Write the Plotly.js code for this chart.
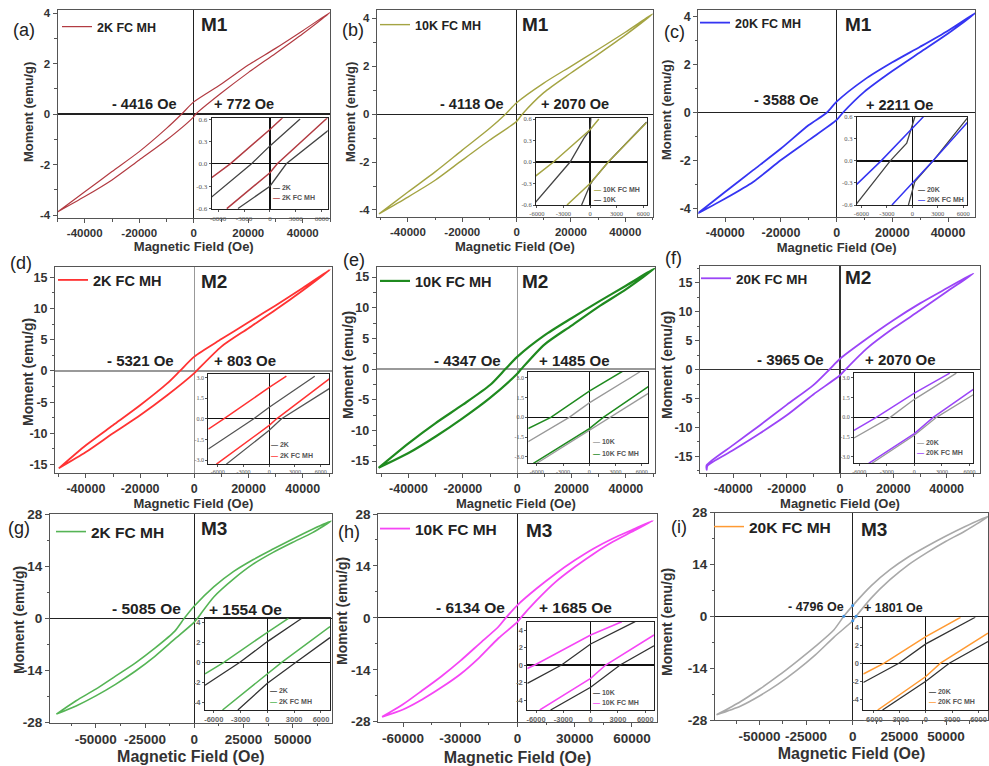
<!DOCTYPE html>
<html><head><meta charset="utf-8">
<script src="https://cdn.plot.ly/plotly-3.0.1.min.js"></script>
<style>html,body{margin:0;padding:0;background:#fff}#chart{width:989px;height:766px}</style>
</head><body><div id="chart"></div>
<script>
// ================= DATA =================
// tick values
const xTicks50 = [-40000, -20000, 0, 20000, 40000];
const xTicks70a = [-50000, -25000, 0, 25000, 50000];
const xTicks70b = [-60000, -30000, 0, 30000, 60000];
const yTicksM1 = [-4, -2, 0, 2, 4];
const yTicksM2 = [-15, -10, -5, 0, 5, 10, 15];
const yTicksM3 = [-28, -14, 0, 14, 28];
const insXTicks = [-6000, -3000, 0, 3000, 6000];
const insYTicksM1 = [-0.6, -0.3, 0, 0.3, 0.6];
const insYTicksM2 = [-3, -1.5, 0, 1.5, 3];
const insYTicksM3 = [-4, -2, 0, 2, 4];

// (a) M1 2K FC MH  main loop (down = descending branch, up = ascending branch)
const aDownH = [50000, 40000, 30000, 20000, 10000, 0, -4416, -10000, -20000, -30000, -40000, -50000];
const aDownM = [4.02, 3.30, 2.60, 1.94, 1.18, 0.48, 0, -0.57, -1.49, -2.28, -3.08, -3.88];
const aUpH = [-50000, -40000, -30000, -20000, -10000, 0, 772, 10000, 20000, 30000, 40000, 50000];
const aUpM = [-3.88, -3.27, -2.61, -1.82, -1.03, -0.11, 0, 0.82, 1.64, 2.40, 3.18, 4.02];
// (a) inset
const aFcDownH = [1500, 0, -4600, -6800];  const aFcDownM = [0.62, 0.46, 0, -0.19];
const aFcUpH = [-5000, 0, 850, 6800];      const aFcUpM = [-0.6, -0.12, 0, 0.63];
const aRefDownH = [3500, 0, -2130, -6800]; const aRefDownM = [0.6, 0.24, 0, -0.45];
const aRefUpH = [-3700, 0, 1900, 6800];    const aRefUpM = [-0.6, -0.3, 0, 0.45];

// (b) M1 10K FC MH
const bDownH = [50000, 40000, 30000, 20000, 10000, 0, -4118, -10000, -20000, -30000, -40000, -50500];
const bDownM = [4.18, 3.42, 2.70, 2.00, 1.30, 0.48, 0, -0.60, -1.50, -2.41, -3.25, -4.15];
const bUpH = [-50500, -40000, -30000, -20000, -10000, 0, 2070, 10000, 20000, 30000, 40000, 50000];
const bUpM = [-4.15, -3.46, -2.76, -1.92, -1.09, -0.30, 0, 0.90, 1.72, 2.50, 3.30, 4.18];
const bFcDownH = [1000, 0, -4120, -6700];        const bFcDownM = [0.6, 0.45, 0, -0.25];
const bFcUpH = [-2600, 0, 2060, 6400];           const bFcUpM = [-0.6, -0.3, 0, 0.55];
const bRefDownH = [100, 0, -700, -2250, -6200];  const bRefDownM = [0.62, 0.45, 0.33, 0, -0.57];
const bRefUpH = [-950, 0, 300, 2060, 6400];      const bRefUpM = [-0.6, -0.32, -0.26, 0, 0.56];

// (c) M1 20K FC MH
const cDownH = [50000, 40000, 30000, 20000, 10000, 0, -3588, -10000, -20000, -30000, -40000, -50000];
const cDownM = [4.17, 3.42, 2.75, 2.10, 1.38, 0.46, 0, -0.51, -1.49, -2.39, -3.29, -4.2];
const cUpH = [-50000, -40000, -30000, -20000, -10000, 0, 2211, 10000, 20000, 30000, 40000, 50000];
const cUpM = [-4.2, -3.57, -2.88, -1.97, -1.14, -0.30, 0, 0.88, 1.74, 2.52, 3.30, 4.17];
const cFcDownH = [1300, 0, -3680, -6550];        const cFcDownM = [0.6, 0.44, 0, -0.32];
const cFcUpH = [-2400, 0, 2440, 6470];           const cFcUpM = [-0.6, -0.3, 0, 0.52];
const cRefDownH = [300, 0, -660, -2600, -6550];  const cRefDownM = [0.6, 0.48, 0.24, 0, -0.58];
const cRefUpH = [-460, 0, 300, 2440, 6470];      const cRefUpM = [-0.6, -0.4, -0.28, 0, 0.58];

// (d) M2 2K FC MH
const dDownH = [50000, 40000, 30000, 20000, 10000, 0, -5321, -10000, -20000, -30000, -40000, -50000];
const dDownM = [16.2, 13.3, 10.5, 7.8, 5.1, 2.3, 0, -2.0, -5.5, -8.7, -11.9, -15.6];
const dUpH = [-50000, -40000, -30000, -20000, -10000, 0, 803, 10000, 20000, 30000, 40000, 50000];
const dUpM = [-15.6, -13.0, -10.0, -7.1, -3.9, -0.35, 0, 3.9, 6.85, 9.8, 12.9, 16.2];
const dFcDownH = [2000, 0, -5300, -7100];  const dFcDownM = [3.1, 2.28, 0, -0.75];
const dFcUpH = [-6150, 0, 860, 7000];      const dFcUpM = [-3.3, -0.48, 0, 2.9];
const dRefDownH = [5300, 0, -1800, -7100]; const dRefDownM = [3.1, 0.84, 0, -2.2];
const dRefUpH = [-5000, 0, 1440, 7000];    const dRefUpM = [-3.3, -0.84, 0, 2.2];

// (e) M2 10K FC MH
const eDownH = [50500, 40000, 30000, 20000, 10000, 0, -4347, -10000, -20000, -30000, -40000, -51000];
const eDownM = [16.4, 13.6, 11.0, 8.3, 5.5, 2.0, 0, -2.6, -5.8, -8.8, -12.1, -16.1];
const eUpH = [-51000, -40000, -30000, -20000, -10000, 0, 1485, 10000, 20000, 30000, 40000, 50500];
const eUpM = [-16.1, -13.7, -11.0, -8.0, -4.7, -0.75, 0, 4.0, 7.1, 10.2, 13.0, 16.4];
const eFcDownH = [3800, 0, -4400, -7000];  const eFcDownM = [3.5, 2.0, 0, -0.85];
const eFcUpH = [-6400, 0, 1600, 6750];     const eFcUpM = [-3.49, -0.85, 0, 2.33];
const eRefDownH = [5800, 0, -2300, -7000]; const eRefDownM = [3.47, 1.1, 0, -1.85];
const eRefUpH = [-6000, 0, 2370, 6750];    const eRefUpM = [-3.49, -0.96, 0, 1.82];

// (f) M2 20K FC MH
const fDownH = [50000, 40000, 30000, 20000, 10000, 0, -3965, -10000, -20000, -30000, -40000, -50000];
const fDownM = [16.55, 14.0, 11.4, 8.5, 5.3, 1.85, 0, -2.7, -6.1, -9.6, -13.0, -16.5];
const fUpH = [-50000, -49700, -40000, -30000, -20000, -10000, 0, 2070, 10000, 20000, 30000, 40000, 50000];
const fUpM = [-17.3, -16.6, -13.9, -11.0, -7.9, -4.3, -1.0, 0, 3.6, 7.1, 10.2, 13.4, 16.55];
const fFcDownH = [3850, 0, -4140, -6560];  const fFcDownM = [3.37, 1.85, 0, -1.0];
const fFcUpH = [-4960, 0, 2050, 6410];     const fFcUpM = [-3.5, -1.24, 0, 2.13];
const fRefDownH = [4570, 0, -2630, -6560]; const fRefDownM = [3.37, 1.37, 0, -1.57];
const fRefUpH = [-4600, 0, 2410, 6410];    const fRefUpM = [-3.5, -1.37, 0, 1.72];

// (g) M3 2K FC MH
const gDownH = [69500, 60000, 50000, 40000, 30000, 20000, 10000, 0, -5085, -10000, -20000, -30000, -40000, -50000, -60000, -70000];
const gDownM = [26.1, 23.9, 21.3, 18.6, 15.8, 12.6, 8.5, 3.3, 0, -3.5, -8.0, -12.0, -15.5, -19.0, -22.1, -25.7];
const gUpH = [-70000, -60000, -50000, -40000, -30000, -20000, -10000, 0, 1554, 10000, 20000, 30000, 40000, 50000, 60000, 69500];
const gUpM = [-25.7, -23.5, -20.8, -17.7, -14.2, -10.2, -5.6, -1.0, 0, 5.8, 10.6, 14.6, 17.7, 20.4, 23.0, 26.1];
const gFcDownH = [2360, 0, -4870, -6980];  const gFcDownM = [4.4, 3.0, 0, -1.15];
const gFcUpH = [-5020, 0, 1600, 7010];     const gFcUpM = [-4.77, -1.2, 0, 3.57];
const gRefDownH = [3860, 0, -3070, -6980]; const gRefDownM = [4.4, 2.07, 0, -2.3];
const gRefUpH = [-3300, 0, 3200, 7010];    const gRefUpM = [-4.77, -2.1, 0, 2.47];

// (h) M3 10K FC MH
const hDownH = [71000, 60000, 50000, 40000, 30000, 20000, 10000, 0, -6134, -10000, -20000, -30000, -40000, -50000, -60000, -71000];
const hDownM = [26.2, 23.7, 21.4, 18.7, 15.5, 11.9, 7.9, 3.45, 0, -2.4, -7.0, -11.6, -15.8, -19.6, -23.3, -26.7];
const hUpH = [-71000, -60000, -50000, -40000, -30000, -20000, -10000, 0, 1685, 10000, 20000, 30000, 40000, 50000, 60000, 71000];
const hUpM = [-26.7, -24.7, -22.0, -18.8, -15.2, -10.7, -5.5, -1.1, 0, 4.7, 9.7, 13.7, 17.3, 20.5, 23.2, 26.2];
const hFcDownH = [3420, 0, -6140, -6960];  const hFcDownM = [4.95, 3.43, 0, -0.4];
const hFcUpH = [-5590, 0, 1650, 6960];     const hFcUpM = [-5.14, -1.52, 0, 3.43];
const hRefDownH = [4890, 0, -3200, -6960]; const hRefDownM = [4.95, 2.4, 0, -2.1];
const hRefUpH = [-4400, 0, 3240, 6960];    const hRefUpM = [-5.14, -2.55, 0, 2.2];

// (i) M3 20K (main loop grey)
const iDownH = [73000, 60000, 50000, 40000, 30000, 20000, 10000, 0, -4796, -10000, -20000, -30000, -40000, -50000, -60000, -73000];
const iDownM = [27.1, 24.2, 21.7, 19.0, 16.1, 12.6, 8.3, 2.9, 0, -3.6, -8.1, -12.2, -16.1, -19.7, -23.0, -26.6];
const iUpH = [-73000, -60000, -50000, -40000, -30000, -20000, -10000, 0, 1801, 10000, 20000, 30000, 40000, 50000, 60000, 73000];
const iUpM = [-26.6, -24.2, -21.5, -18.3, -14.6, -10.4, -5.6, -1.2, 0, 5.0, 9.9, 14.0, 17.3, 20.3, 23.0, 27.1];
const iMarkH = [-4796, 1801, 0, 0];
const iMarkM = [0, 0, 2.9, -1.2];
const iFcDownH = [3960, 0, -4740, -7120];  const iFcDownM = [5.1, 2.96, 0, -1.2];
const iFcUpH = [-5480, 0, 1670, 7080];     const iFcUpM = [-5.2, -1.48, 0, 3.33];
const iRefDownH = [5630, 0, -3070, -7120]; const iRefDownM = [5.1, 2.15, 0, -2.15];
const iRefUpH = [-4930, 0, 2670, 7080];    const iRefUpM = [-5.2, -2.0, 0, 2.4];

// ================= STYLE / LAYOUT =================
const W = 989, H = 766;
const px = v => v / W;
const py = v => 1 - v / H;
const SANS = 'Liberation Sans, Arial, sans-serif';
const SERIF = 'Liberation Serif, Times New Roman, serif';

const specs = [
 {down:[aDownH,aDownM], up:[aUpH,aUpM], name:'2K FC MH', color:'#b23b42', lw:1.2,
  box:[57.5,330,10,218.3], xr:[-50000,50000], yr:[-4.13,4.12], xt:xTicks50, xm:10000, yt:yTicksM1, ym:1,
  zc:'#222', tf:11.5, ttf:13, xso:1, yTitle:[28,112,13], leg:[57,12,12.5],
  tag:'M1', tagPos:[214,25], hl:'- 4416 Oe', hlPos:[144,104], hr:'+ 772 Oe', hrPos:[244,104], hf:14.5,
  letter:'(a)', letterPos:[24,30],
  ins:{box:[211.7,327.7,118.3,209.3], xr:[-6750,6700], yr:[-0.61,0.61], yt:insYTicksM1, dec:1,
       fc:[[aFcDownH,aFcDownM],[aFcUpH,aFcUpM]], ref:[[aRefDownH,aRefDownM],[aRefUpH,aRefUpM]],
       refName:'2K', refColor:'#444', tickFont:{family:SERIF,size:7,color:'#555'},
       legX:271, legY:[187,197.5], order:['ref','fc']}},
 {down:[bDownH,bDownM], up:[bUpH,bUpM], name:'10K FC MH', color:'#a4a443', lw:1.4,
  box:[376.7,653,10,216.7], xr:[-51500,50200], yr:[-4.28,4.35], xt:xTicks50, xm:10000, yt:yTicksM1, ym:1,
  zc:'#222', tf:11.5, ttf:13, xso:5, yTitle:[350,112,13], leg:[375,10,12.5],
  tag:'M1', tagPos:[535,25], hl:'- 4118 Oe', hlPos:[472,104], hr:'+ 2070 Oe', hrPos:[575,104], hf:14.5,
  letter:'(b)', letterPos:[353,30],
  ins:{box:[536,646.7,118.3,205], xr:[-6100,6400], yr:[-0.6,0.61], yt:insYTicksM1, dec:1,
       fc:[[bFcDownH,bFcDownM],[bFcUpH,bFcUpM]], ref:[[bRefDownH,bRefDownM],[bRefUpH,bRefUpM]],
       refName:'10K', refColor:'#444', tickFont:{family:SERIF,size:6.5,color:'#555'},
       legX:592, legY:[189.5,199], order:['fc','ref']}},
 {down:[cDownH,cDownM], up:[cUpH,cUpM], name:'20K FC MH', color:'#3535f2', lw:1.8,
  box:[698.3,975,10,216.7], xr:[-49700,49700], yr:[-4.33,4.28], xt:xTicks50, xm:10000, yt:yTicksM1, ym:1,
  zc:'#222', tf:12.5, ttf:13, xso:4, yTitle:[667,110,13], leg:[695,8,12.5],
  tag:'M1', tagPos:[858,25], hl:'- 3588 Oe', hlPos:[786,100], hr:'+ 2211 Oe', hrPos:[899,105], hf:14.5,
  letter:'(c)', letterPos:[674,32],
  ins:{box:[856.7,967.3,116.7,205], xr:[-6550,6470], yr:[-0.6,0.6], yt:insYTicksM1, dec:1,
       fc:[[cFcDownH,cFcDownM],[cFcUpH,cFcUpM]], ref:[[cRefDownH,cRefDownM],[cRefUpH,cRefUpM]],
       refName:'20K', refColor:'#444', tickFont:{family:SERIF,size:6.5,color:'#555'},
       legX:916, legY:[189.5,199], order:['ref','fc']}},
 {down:[dDownH,dDownM], up:[dUpH,dUpM], name:'2K FC MH', color:'#ff3333', lw:1.8,
  box:[55,331.7,266.7,473.3], xr:[-51400,50700], yr:[-16.4,16.7], xt:xTicks50, xm:10000, yt:yTicksM2, ym:2.5,
  zc:'#999', tf:12.5, ttf:13, xso:2, yTitle:[28,372,14], leg:[53,264,14.5],
  tag:'M2', tagPos:[214,282], hl:'- 5321 Oe', hlPos:[140,360], hr:'+ 803 Oe', hrPos:[245,360], hf:15,
  letter:'(d)', letterPos:[21,263],
  ins:{box:[208.3,329.3,374.3,464], xr:[-7100,7000], yr:[-3.29,3.24], yt:insYTicksM2, dec:1,
       fc:[[dFcDownH,dFcDownM],[dFcUpH,dFcUpM]], ref:[[dRefDownH,dRefDownM],[dRefUpH,dRefUpM]],
       refName:'2K', refColor:'#555', tickFont:{family:SERIF,size:6,color:'#555'},
       legX:269, legY:[445,455], order:['ref','fc']}},
 {down:[eDownH,eDownM], up:[eUpH,eUpM], name:'10K FC MH', color:'#1f8a1f', lw:2.2,
  box:[376.7,655,266.7,473.3], xr:[-51700,50700], yr:[-17.0,16.7], xt:xTicks50, xm:10000, yt:yTicksM2, ym:2.5,
  zc:'#999', tf:12.5, ttf:13, xso:2, yTitle:[348,365,14], leg:[375,265,14.5],
  tag:'M2', tagPos:[535,281], hl:'- 4347 Oe', hlPos:[467,360], hr:'+ 1485 Oe', hrPos:[574,360], hf:15,
  letter:'(e)', letterPos:[354,260],
  ins:{box:[528.3,648.3,371.7,463.3], xr:[-6980,6750], yr:[-3.49,3.47], yt:insYTicksM2, dec:1,
       fc:[[eFcDownH,eFcDownM],[eFcUpH,eFcUpM]], ref:[[eRefDownH,eRefDownM],[eRefUpH,eRefUpM]],
       refName:'10K', refColor:'#999', tickFont:{family:SERIF,size:6,color:'#555'},
       legX:591, legY:[441.7,453.3], order:['ref','fc']}},
 {down:[fDownH,fDownM], up:[fUpH,fUpM], name:'20K FC MH', color:'#9b45f7', lw:1.8,
  box:[700,980,265.7,473.3], xr:[-52500,52500], yr:[-17.9,17.9], xt:xTicks50, xm:10000, yt:yTicksM2, ym:2.5,
  zc:'#333', tf:12.5, ttf:13, xso:2, yTitle:[667,365,14], leg:[696,263,13.5],
  tag:'M2', tagPos:[858,278], hl:'- 3965 Oe', hlPos:[790,359], hr:'+ 2070 Oe', hrPos:[900,359], hf:15,
  letter:'(f)', letterPos:[673,258],
  ins:{box:[854,973.3,372.7,463.3], xr:[-6560,6410], yr:[-3.5,3.4], yt:insYTicksM2, dec:1,
       fc:[[fFcDownH,fFcDownM],[fFcUpH,fFcUpM]], ref:[[fRefDownH,fRefDownM],[fRefUpH,fRefUpM]],
       refName:'20K', refColor:'#999', tickFont:{family:SERIF,size:6,color:'#555'},
       legX:915, legY:[442.3,452.3], order:['ref','fc']}},
 {down:[gDownH,gDownM], up:[gUpH,gUpM], name:'2K FC MH', color:'#55b455', lw:1.6,
  box:[50,331.7,514,722.7], xr:[-73250,69750], yr:[-28,28], xt:xTicks70a, xm:12500, yt:yTicksM3, ym:7,
  zc:'#222', tf:13.5, ttf:16, xso:4, yTitle:[19,620,14], leg:[51,515,15.5],
  tag:'M3', tagPos:[214,528], hl:'- 5085 Oe', hlPos:[146,608], hr:'+ 1554 Oe', hrPos:[245,609], hf:15.5,
  letter:'(g)', letterPos:[19,528],
  ins:{box:[205,330,618.3,710], xr:[-6980,7010], yr:[-4.77,4.4], yt:insYTicksM3, dec:0,
       fc:[[gFcDownH,gFcDownM],[gFcUpH,gFcUpM]], ref:[[gRefDownH,gRefDownM],[gRefUpH,gRefUpM]],
       refName:'2K', refColor:'#333', tickFont:{family:SANS,size:7.5,color:'#666',weight:'bold'},
       legX:268, legY:[690.7,701], order:['ref','fc']}},
 {down:[hDownH,hDownM], up:[hUpH,hUpM], name:'10K FC MH', color:'#f546f5', lw:1.8,
  box:[378.3,656.7,514,721.7], xr:[-73000,73000], yr:[-28,28], xt:xTicks70b, xm:15000, yt:yTicksM3, ym:7,
  zc:'#222', tf:13.5, ttf:16, xso:14, yTitle:[342,611,14], leg:[375,512,15.5],
  tag:'M3', tagPos:[539,530], hl:'- 6134 Oe', hlPos:[470,607], hr:'+ 1685 Oe', hrPos:[575,607], hf:15.5,
  letter:'(h)', letterPos:[349,532],
  ins:{box:[527.3,654,621.7,710], xr:[-6960,6960], yr:[-5.14,4.95], yt:insYTicksM3, dec:0,
       fc:[[hFcDownH,hFcDownM],[hFcUpH,hFcUpM]], ref:[[hRefDownH,hRefDownM],[hRefUpH,hRefUpM]],
       refName:'10K', refColor:'#333', tickFont:{family:SANS,size:7.5,color:'#666',weight:'bold'},
       legX:591, legY:[692.7,702.3], order:['ref','fc']}},
 {down:[iDownH,iDownM], up:[iUpH,iUpM], name:'20K FC MH', color:'#ff9a33', loopColor:'#a9a9a9', lw:1.6,
  box:[715,988,512.7,720], xr:[-73800,72500], yr:[-28,28], xt:xTicks70a, xm:12500, yt:yTicksM3, ym:7,
  zc:'#222', tf:13.5, ttf:16, xso:4, yTitle:[667,622,14], leg:[709,510,15.5],
  tag:'M3', tagPos:[874,529], hl:'- 4796 Oe', hlPos:[816,607], hr:'+ 1801 Oe', hrPos:[893,608], hf:12.5,
  letter:'(i)', letterPos:[679,527], marks:[iMarkH,iMarkM],
  ins:{box:[863.3,988,617.3,710], xr:[-7120,7080], yr:[-5.2,5.1], yt:insYTicksM3, dec:0,
       fc:[[iFcDownH,iFcDownM],[iFcUpH,iFcUpM]], ref:[[iRefDownH,iRefDownM],[iRefUpH,iRefUpM]],
       refName:'20K', refColor:'#333', tickFont:{family:SANS,size:7.5,color:'#666',weight:'bold'},
       legX:927, legY:[691.7,701.7], order:['ref','fc']}}
];

const traces = [];
const layout = {
  width: W, height: H, margin: {l:0, r:0, t:0, b:0},
  paper_bgcolor: '#fff', plot_bgcolor: 'rgba(0,0,0,0)', showlegend: true,
  font: {family: SANS, color: '#333'},
  annotations: []
};

function branches(b1, b2) {
  return {x: b1[0].concat([null], b2[0]), y: b1[1].concat([null], b2[1])};
}

specs.forEach((s, k) => {
  const n = k + 1, m = k + 10;
  const xa = n === 1 ? 'x' : 'x' + n, ya = n === 1 ? 'y' : 'y' + n;
  const legId = n === 1 ? 'legend' : 'legend' + n;
  const b = s.box;
  const isGreyLoop = !!s.loopColor;
  traces.push({
    type: 'scatter', mode: 'lines', xaxis: xa, yaxis: ya,
    x: s.down[0].concat(s.up[0]), y: s.down[1].concat(s.up[1]),
    line: {color: s.loopColor || s.color, width: s.lw, shape: 'spline', smoothing: 0.7},
    name: s.name, showlegend: !isGreyLoop, legend: legId, hoverinfo: 'skip'
  });
  if (s.marks) {
    traces.push({type:'scatter', mode:'markers', xaxis: xa, yaxis: ya, x: s.marks[0], y: s.marks[1],
      marker:{color:'#3a8fe0', size:3}, showlegend:false, hoverinfo:'skip'});
  }
  const tickFontMain = {family: SANS, size: s.tf, color: '#333', weight: 'bold'};
  const titleFont = {family: SANS, size: s.ttf, color: '#333', weight: 'bold'};
  layout['xaxis' + (n === 1 ? '' : n)] = {
    domain: [px(b[0]), px(b[1])], range: s.xr, anchor: ya, fixedrange: true,
    showline: true, mirror: true, linecolor: '#555', linewidth: 1,
    zeroline: true, zerolinecolor: s.zc, zerolinewidth: 1.2, showgrid: false,
    ticks: 'outside', ticklen: 4, tickwidth: 1, tickcolor: '#555',
    tickvals: s.xt, ticktext: s.xt.map(v => String(v)), tickfont: tickFontMain,
    minor: {dtick: s.xm, tick0: 0, ticks: 'outside', ticklen: 2.5, tickcolor: '#555', showgrid: false},
    title: {text: 'Magnetic Field (Oe)', font: titleFont, standoff: s.xso}
  };
  layout['yaxis' + (n === 1 ? '' : n)] = {
    domain: [py(b[3]), py(b[2])], range: s.yr, anchor: xa, fixedrange: true,
    showline: true, mirror: true, linecolor: '#555', linewidth: 1,
    zeroline: true, zerolinecolor: s.zc, zerolinewidth: 1.2, showgrid: false,
    ticks: 'outside', ticklen: 4, tickwidth: 1, tickcolor: '#555',
    tickvals: s.yt, ticktext: s.yt.map(v => String(v)), tickfont: tickFontMain,
    minor: {dtick: s.ym, tick0: 0, ticks: 'outside', ticklen: 2.5, tickcolor: '#555', showgrid: false}
  };
  // y-axis title placed next to the axis
  layout.annotations.push({
    xref:'paper', yref:'paper', x: px(s.yTitle[0]), y: py(s.yTitle[1]), xanchor:'center', yanchor:'middle',
    textangle: -90, showarrow:false, text:'Moment (emu/g)',
    font:{family: SANS, size: s.yTitle[2], color:'#333', weight:'bold'}
  });
  layout[legId] = {
    x: px(s.leg[0]), y: py(s.leg[1]), xanchor: 'left', yanchor: 'top',
    bgcolor: 'rgba(0,0,0,0)', borderwidth: 0,
    font: {family: SANS, size: s.leg[2], color: '#222', weight: 'bold'}
  };

  // inset
  const I = s.ins, ib = I.box;
  const xi = 'x' + m, yi = 'y' + m;
  const ref = branches(I.ref[0], I.ref[1]);
  const fc = branches(I.fc[0], I.fc[1]);
  traces.push({type:'scatter', mode:'lines', xaxis: xi, yaxis: yi, x: ref.x, y: ref.y,
    line:{color: I.refColor, width: 1.3}, name: I.refName, showlegend: false, hoverinfo:'skip', connectgaps:false});
  traces.push({type:'scatter', mode:'lines', xaxis: xi, yaxis: yi, x: fc.x, y: fc.y,
    line:{color: s.color, width: 1.5}, name: s.name, showlegend: isGreyLoop, legend: legId,
    hoverinfo:'skip', connectgaps:false});
  layout['xaxis' + m] = {
    domain: [px(ib[0]), px(ib[1])], range: I.xr, anchor: yi, fixedrange: true,
    showline: true, mirror: true, linecolor: '#222', linewidth: 1,
    zeroline: true, zerolinecolor: '#111', zerolinewidth: 1.3, showgrid: false,
    ticks: 'outside', ticklen: 2, tickcolor: '#555',
    tickvals: insXTicks, ticktext: insXTicks.map(v => String(v)), tickfont: I.tickFont
  };
  layout['yaxis' + m] = {
    domain: [py(ib[3]), py(ib[2])], range: I.yr, anchor: xi, fixedrange: true,
    showline: true, mirror: true, linecolor: '#222', linewidth: 1,
    zeroline: true, zerolinecolor: '#111', zerolinewidth: 1.3, showgrid: false,
    ticks: 'outside', ticklen: 2, tickcolor: '#555',
    tickvals: I.yt, ticktext: I.yt.map(v => v.toFixed(I.dec)), tickfont: I.tickFont
  };
  I.order.forEach((which, j) => {
    const col = which === 'ref' ? I.refColor : s.color;
    const label = which === 'ref' ? I.refName : s.name;
    layout.annotations.push({
      xref:'paper', yref:'paper', x: px(I.legX), y: py(I.legY[j]), xanchor:'left', yanchor:'middle',
      showarrow:false, text:'<span style="color:' + col + '">\u2014</span> ' + label,
      font:{family: SANS, size: 7, color:'#555', weight:'bold'}
    });
  });

  const ann = (t, p, size, weight) => layout.annotations.push({
    xref:'paper', yref:'paper', x: px(p[0]), y: py(p[1]), xanchor:'center', yanchor:'middle',
    showarrow:false, text: t, font:{family: SANS, size: size, color:'#222', weight: weight}
  });
  ann(s.tag, s.tagPos, 19, 'bold');
  ann(s.hl, s.hlPos, s.hf, 'bold');
  ann(s.hr, s.hrPos, s.hf, 'bold');
  ann(s.letter, s.letterPos, 18, 'normal');
});

Plotly.newPlot('chart', traces, layout, {staticPlot: true, displayModeBar: false});
</script>
</body></html>
